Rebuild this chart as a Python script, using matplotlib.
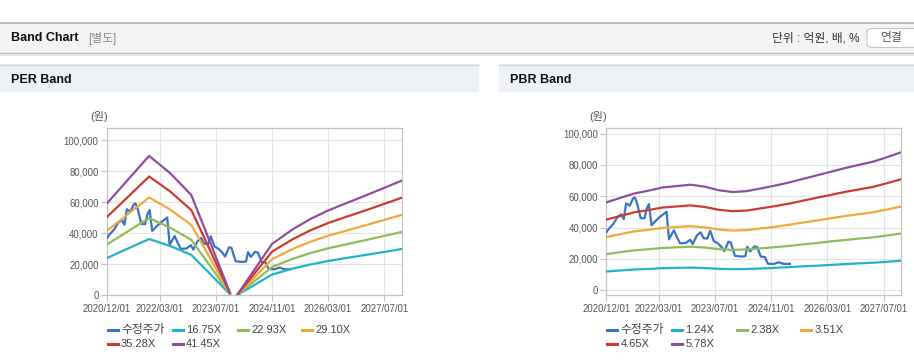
import pandas as pd
import matplotlib
matplotlib.use("Agg")
import matplotlib.pyplot as plt
import matplotlib.dates as mdates
from matplotlib.patches import Rectangle, FancyBboxPatch
from matplotlib.lines import Line2D
from matplotlib.ticker import FuncFormatter

plt.rcParams['font.family'] = ['Liberation Sans', 'Noto Sans CJK KR']

# ---- data ----
price_dates = ["2020-12-01", "2020-12-20", "2021-02-01", "2021-03-10", "2021-04-10",
               "2021-05-01", "2021-05-22", "2021-06-22", "2021-07-20", "2021-08-05",
               "2021-08-25", "2021-09-25", "2021-10-28", "2021-11-15", "2021-12-05",
               "2021-12-28", "2022-01-28", "2022-03-10", "2022-05-07", "2022-05-28",
               "2022-06-19", "2022-07-10", "2022-08-04", "2022-09-01", "2022-10-22",
               "2022-11-28", "2022-12-19", "2023-01-25", "2023-02-25", "2023-03-25",
               "2023-04-25", "2023-05-20", "2023-06-20", "2023-07-25", "2023-08-28",
               "2023-09-20", "2023-10-25", "2023-11-15", "2023-12-20", "2024-02-15",
               "2024-03-20", "2024-04-05", "2024-05-01", "2024-06-05", "2024-07-01",
               "2024-08-01", "2024-09-05", "2024-10-01", "2024-11-20", "2025-01-05",
               "2025-02-05", "2025-03-05", "2025-04-10"]
price = [37.0, 39.0, 42.5, 47.0, 48.5, 45.5, 55.5, 54.0, 58.5, 59.3,
         55.5, 46.0, 46.0, 52.0, 55.0, 41.5, 44.0, 46.8, 50.2, 32.5,
         35.5, 38.3, 34.0, 30.0, 30.2, 32.3, 29.5, 35.0, 37.0, 33.2,
         33.0, 38.0, 31.5, 30.0, 27.5, 25.0, 31.0, 30.5, 22.0, 21.5,
         21.8, 27.8, 24.8, 28.0, 27.5, 21.5, 21.2, 17.0, 16.8, 17.9,
         17.0, 16.8, 16.9]

per_dates = ["2020-12-01", "2021-06-01", "2021-12-01", "2022-06-01", "2022-12-01",
             "2023-06-01", "2023-11-01", "2023-12-01", "2024-01-01", "2024-06-01",
             "2024-11-01", "2025-05-01", "2025-10-01", "2026-03-01", "2026-08-01",
             "2027-01-01", "2027-06-01", "2027-12-01"]
nan = float("nan")
per_1675 = [24.0, 30.2, 36.3, 31.8, 26.1, 12.4, 0.7, nan, 0, 6.7, 13.4, 17.3, 19.9, 22.1, 24.0, 25.8, 27.6, 29.9]
per_2293 = [32.8, 41.3, 49.8, 43.6, 35.8, 17.0, 0.9, nan, 0, 9.2, 18.3, 23.6, 27.3, 30.3, 32.8, 35.3, 37.8, 40.9]
per_2910 = [41.6, 52.4, 63.1, 55.3, 45.4, 21.5, 1.2, nan, 0, 11.6, 23.3, 30.0, 34.6, 38.4, 41.6, 44.8, 48.0, 51.9]
per_3528 = [50.5, 63.5, 76.6, 67.0, 55.0, 26.1, 1.4, nan, 0, 14.1, 28.2, 36.3, 42.0, 46.6, 50.5, 54.3, 58.2, 63.0]
per_4145 = [59.3, 74.6, 89.9, 78.8, 64.7, 30.7, 1.7, nan, 0, 16.6, 33.2, 42.7, 49.3, 54.7, 59.3, 63.8, 68.4, 74.0]
per_labels = ["16.75X", "22.93X", "29.10X", "35.28X", "41.45X"]

pbr_dates = pd.date_range("2020-12-01", periods=22, freq="4MS")
pbr_124 = [12.0, 12.6, 13.3, 13.6, 14.1, 14.3, 14.5, 14.2, 13.7, 13.5, 13.6,
           13.9, 14.3, 14.8, 15.3, 15.7, 16.2, 16.7, 17.2, 17.6, 18.2, 18.9]
pbr_238 = [23.1, 24.3, 25.5, 26.2, 27.0, 27.4, 27.8, 27.3, 26.3, 25.8, 26.1,
           26.8, 27.5, 28.3, 29.3, 30.2, 31.2, 32.1, 33.0, 33.8, 35.0, 36.3]
pbr_351 = [34.0, 35.8, 37.6, 38.6, 39.8, 40.4, 40.9, 40.2, 38.8, 38.1, 38.4,
           39.5, 40.5, 41.8, 43.2, 44.6, 46.0, 47.4, 48.6, 49.8, 51.6, 53.5]
pbr_465 = [45.1, 47.4, 49.8, 51.2, 52.8, 53.5, 54.2, 53.2, 51.4, 50.5, 50.9,
           52.3, 53.7, 55.3, 57.2, 59.1, 60.9, 62.8, 64.4, 66.0, 68.4, 70.9]
pbr_578 = [56.1, 59.0, 61.8, 63.6, 65.6, 66.5, 67.4, 66.2, 63.9, 62.7, 63.3,
           65.0, 66.8, 68.8, 71.1, 73.4, 75.7, 78.0, 80.1, 82.1, 85.0, 88.1]
pbr_labels = ["1.24X", "2.38X", "3.51X", "4.65X", "5.78X"]

tick_dates = ["2020-12-01", "2022-03-01", "2023-07-01", "2024-11-01", "2026-03-01", "2027-07-01"]
price_label = "수정주가"

colors = ["#3a74c4", "#21b3c6", "#8fbd5a", "#f3a83c", "#cf3a30", "#904f9e"]

W, H = 914, 364
fig = plt.figure(figsize=(W / 100, H / 100), dpi=100)


def fx(x):
    return x / W


def fy(y):
    return 1 - y / H


def rect(x0, y0, x1, y1, color, z=0):
    fig.patches.append(Rectangle((fx(x0), fy(y1)), fx(x1 - x0), (y1 - y0) / H,
                                 transform=fig.transFigure, facecolor=color,
                                 edgecolor="none", zorder=z))


def hline(y, x0, x1, color, lw=1.0):
    fig.add_artist(Line2D([fx(x0), fx(x1)], [fy(y), fy(y)], color=color, lw=lw,
                          transform=fig.transFigure))


# page chrome
rect(0, 22, W, 53, "#f4f4f4")
hline(22.5, 0, W, "#b4b4b4", 1.2)
hline(53, 0, W, "#bdbdbd", 1.0)
hline(54.5, 0, W, "#e6e6e6", 1.5)
rect(0, 64, 479, 92, "#eef2f7")
rect(499, 64, W, 92, "#eef2f7")
hline(64.5, 0, 479, "#d8d8d8", 1.0)
hline(64.5, 499, W, "#d8d8d8", 1.0)

fig.text(fx(11), fy(38), "Band Chart", fontsize=9, fontweight="bold", va="center", color="#111")
fig.text(fx(88), fy(38.5), "[별도]", fontsize=8.5, va="center", color="#8a8a8a")
fig.text(fx(859), fy(38.5), "단위 : 억원, 배, %", fontsize=8.5, va="center", ha="right", color="#333")
fig.patches.append(FancyBboxPatch((fx(867), fy(47.5)), fx(60), 19 / H,
                                  boxstyle="round,pad=0,rounding_size=0.008",
                                  transform=fig.transFigure, facecolor="white",
                                  edgecolor="#c4c4c4", lw=0.8))
fig.text(fx(891), fy(38.5), "연결", fontsize=8.5, va="center", ha="center", color="#555")
fig.text(fx(11), fy(80), "PER Band", fontsize=9, fontweight="bold", va="center", color="#111")
fig.text(fx(510), fy(80), "PBR Band", fontsize=9, fontweight="bold", va="center", color="#111")


def make_axes(left, ylim, dates, bands, labels):
    ax = fig.add_axes([fx(left), fy(295.3), fx(295), 167 / H])
    ax.plot(pd.to_datetime(price_dates), [v * 1000 for v in price],
            color=colors[0], lw=1.6, zorder=3)
    bd = pd.to_datetime(dates)
    for i, b in enumerate(bands):
        ax.plot(bd, [v * 1000 for v in b], color=colors[i + 1], lw=1.6, zorder=4)
    ax.set_xlim(pd.Timestamp("2020-12-01"), pd.Timestamp("2027-12-01"))
    ax.set_ylim(*ylim)
    ax.set_xticks(pd.to_datetime(tick_dates))
    ax.xaxis.set_major_formatter(mdates.DateFormatter("%Y/%m/%d"))
    ax.set_yticks(range(0, 100001, 20000))
    ax.yaxis.set_major_formatter(FuncFormatter(lambda v, p: f"{int(v):,}"))
    ax.grid(True, color="#e4e4e4", lw=0.8)
    ax.set_axisbelow(True)
    for s in ax.spines.values():
        s.set_color("#c4c4c4")
        s.set_linewidth(0.9)
    ax.tick_params(colors="#c4c4c4", labelcolor="#555", labelsize=6.9, length=4, width=0.8)
    ax.tick_params(axis="x", pad=2)
    ax.tick_params(axis="y", pad=2)
    fig.text(fx(left - 8), fy(116), "(원)", fontsize=8, ha="center", va="center", color="#555")

    # legend
    names = [price_label] + labels
    slots = [(108, 330), (173, 330), (238, 330), (302, 330), (108, 344), (173, 344)]
    off = left - 107
    for i, name in enumerate(names):
        x, y = slots[i]
        x += off
        fig.add_artist(Line2D([fx(x), fx(x + 10)], [fy(y), fy(y)], color=colors[i],
                              lw=2.2, transform=fig.transFigure))
        fig.text(fx(x + 13), fy(y), name, fontsize=8.5 if i == 0 else 8,
                 va="center", ha="left", color="#444")
    return ax


make_axes(107, (0, 107700), per_dates,
          [per_1675, per_2293, per_2910, per_3528, per_4145], per_labels)
make_axes(606.3, (-3200, 103400), pbr_dates,
          [pbr_124, pbr_238, pbr_351, pbr_465, pbr_578], pbr_labels)

fig.savefig("out.png", dpi=100)
